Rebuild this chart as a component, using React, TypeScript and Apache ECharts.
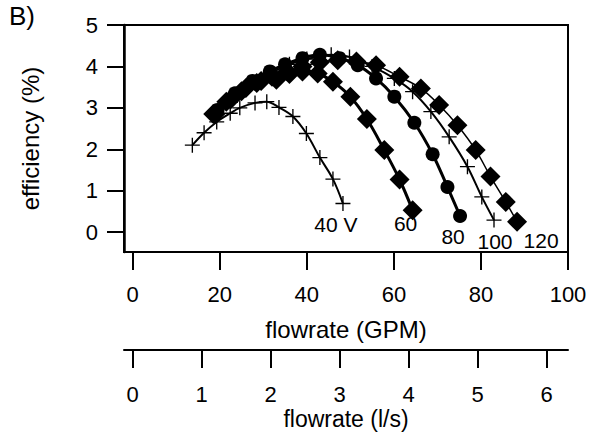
import React, { useEffect, useRef } from "react";
import * as echarts from "echarts";

const FONT = '"Liberation Sans", Arial, Helvetica, sans-serif';

// flowrate (GPM) and efficiency (%) per drive voltage
const flow40 = [13.7, 16.4, 19.3, 22.4, 24.6, 28.1, 30.8, 33.6, 36.8, 39.9, 43.0, 46.0, 48.3];
const eff40 = [2.1, 2.4, 2.66, 2.87, 3.0, 3.12, 3.15, 3.01, 2.79, 2.38, 1.8, 1.28, 0.69];

const flow60 = [19.0, 22.5, 26.0, 29.5, 33.0, 36.0, 39.0, 42.5, 46.0, 50.0, 53.8, 57.8, 61.3, 64.3];
const eff60 = [2.85, 3.2, 3.48, 3.65, 3.68, 3.82, 3.88, 3.83, 3.63, 3.27, 2.73, 1.98, 1.27, 0.53];

const flow80 = [19.5, 23.5, 27.5, 31.5, 35.0, 39.0, 43.0, 47.5, 51.7, 55.9, 60.1, 64.7, 68.9, 72.3, 75.2];
const eff80 = [2.95, 3.35, 3.65, 3.88, 4.05, 4.2, 4.28, 4.2, 4.03, 3.71, 3.27, 2.64, 1.88, 1.09, 0.39];

const flow100 = [20.5, 24.0, 28.0, 32.0, 36.0, 40.0, 45.6, 49.8, 55.0, 60.1, 64.3, 68.5, 72.7, 76.9, 80.2, 83.0];
const eff100 = [3.0, 3.3, 3.6, 3.85, 4.05, 4.18, 4.28, 4.23, 4.0, 3.71, 3.39, 2.91, 2.3, 1.58, 0.85, 0.29];

const flow120 = [18.5, 21.5, 25.0, 28.5, 32.0, 35.5, 39.0, 43.0, 47.1, 51.4, 55.9, 61.3, 66.2, 70.4, 74.6, 78.8, 82.2, 85.7, 88.3];
const eff120 = [2.85, 3.15, 3.4, 3.6, 3.75, 3.88, 4.0, 4.1, 4.15, 4.12, 4.03, 3.75, 3.47, 3.07, 2.58, 1.98, 1.34, 0.73, 0.25];

const seriesNames = ["40 V", "60", "80", "100", "120"];

const gpmTicks = [0, 20, 40, 60, 80, 100];
const lpsTicks = [0, 1, 2, 3, 4, 5, 6];
const effTicks = [0, 1, 2, 3, 4, 5];

const GPM_PER_LPS = 15.85;
const GPM_MIN = -2;
const GPM_MAX = 100;
const EFF_MIN = -0.48;
const EFF_MAX = 5;

const CROSS = "path://M4.55,0h0.9v4.55h4.55v0.9h-4.55v4.55h-0.9v-4.55h-4.55v-0.9h4.55z";

function pairs(xs: number[], ys: number[], labelOffset: number[], name: string) {
  return xs.map((x, i) => {
    if (i === xs.length - 1) {
      return {
        value: [x, ys[i]],
        label: {
          show: true,
          formatter: name,
          position: "inside",
          offset: labelOffset,
          color: "#000",
          fontFamily: FONT,
          fontSize: 21,
        },
      };
    }
    return { value: [x, ys[i]] };
  });
}

export default function App() {
  const ref = useRef<HTMLDivElement>(null);

  useEffect(() => {
    if (!ref.current) return;
    const chart = echarts.init(ref.current, undefined, { renderer: "svg" });

    const axisText = { color: "#000", fontFamily: FONT, fontSize: 22 };

    const mk = (
      xs: number[],
      ys: number[],
      name: string,
      symbol: string,
      symbolSize: number,
      lineWidth: number,
      labelOffset: number[]
    ) => ({
      type: "line",
      name,
      xAxisIndex: 0,
      yAxisIndex: 0,
      data: pairs(xs, ys, labelOffset, name),
      smooth: 0.35,
      symbol,
      symbolSize,
      showAllSymbol: true,
      lineStyle: { color: "#000", width: lineWidth },
      itemStyle: { color: "#000", borderWidth: 0 },
      label: { show: false },
      emphasis: { disabled: true },
      silent: true,
    });

    chart.setOption({
      animation: false,
      backgroundColor: "#fff",
      textStyle: { fontFamily: FONT },
      grid: {
        left: 124,
        right: 28,
        top: 25,
        bottom: 180,
        containLabel: false,
        outerBoundsMode: "none",
        show: true,
        borderColor: "#000",
        borderWidth: 2,
        backgroundColor: "transparent",
      },
      graphic: [
        {
          type: "text",
          left: 9,
          top: 3,
          style: { text: "B)", fill: "#000", font: `26px ${FONT}` },
        },
      ],
      xAxis: [
        {
          type: "value",
          position: "bottom",
          min: GPM_MIN,
          max: GPM_MAX,
          name: "flowrate (GPM)",
          nameLocation: "middle",
          nameGap: 65,
          nameMoveOverlap: false,
          nameTextStyle: { ...axisText, fontSize: 24 },
          axisLine: { show: true, onZero: false, lineStyle: { color: "#000", width: 2 } },
          axisTick: { show: true, inside: false, length: 18, customValues: gpmTicks, lineStyle: { color: "#000", width: 2 } },
          axisLabel: { ...axisText, margin: 31, customValues: gpmTicks },
          splitLine: { show: false },
        },
        {
          type: "value",
          position: "bottom",
          offset: 98,
          min: GPM_MIN / GPM_PER_LPS,
          max: GPM_MAX / GPM_PER_LPS,
          name: "flowrate (l/s)",
          nameLocation: "middle",
          nameGap: 59,
          nameMoveOverlap: false,
          nameTextStyle: { ...axisText, fontSize: 23, lineHeight: 20 },
          axisLine: { show: true, onZero: false, lineStyle: { color: "#000", width: 2 } },
          axisTick: { show: true, inside: false, length: 18, customValues: lpsTicks, lineStyle: { color: "#000", width: 2 } },
          axisLabel: { ...axisText, lineHeight: 18, margin: 35, customValues: lpsTicks },
          splitLine: { show: false },
        },
      ],
      yAxis: [
        {
          type: "value",
          min: EFF_MIN,
          max: EFF_MAX,
          name: "efficiency (%)",
          nameLocation: "middle",
          nameGap: 82,
          nameRotate: 90,
          nameMoveOverlap: false,
          nameTextStyle: { ...axisText, fontSize: 24 },
          axisLine: { show: true, onZero: false, lineStyle: { color: "#000", width: 2.5 } },
          axisTick: { show: true, inside: false, length: 17, customValues: effTicks, lineStyle: { color: "#000", width: 2 } },
          axisLabel: { ...axisText, margin: 26, customValues: effTicks },
          splitLine: { show: false },
        },
      ],
      series: [
        mk(flow40, eff40, seriesNames[0], CROSS, 15, 2, [-7, 21]),
        mk(flow60, eff60, seriesNames[1], "diamond", 20, 3, [-7, 13]),
        mk(flow80, eff80, seriesNames[2], "circle", 14, 3, [-7, 21]),
        mk(flow100, eff100, seriesNames[3], CROSS, 15, 2, [1, 21]),
        mk(flow120, eff120, seriesNames[4], "diamond", 20, 1.5, [24, 19]),
      ],
    });

    return () => chart.dispose();
  }, []);

  return (
    <div
      ref={ref}
      style={{ position: "fixed", left: 0, top: 0, width: 596, height: 432 }}
    />
  );
}
